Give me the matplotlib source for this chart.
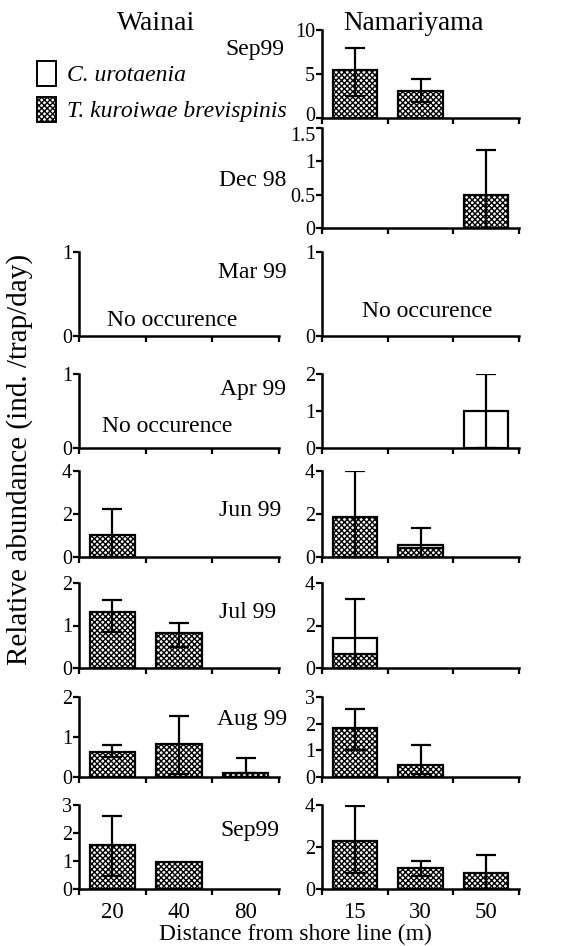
import matplotlib
matplotlib.use("Agg")
import matplotlib.pyplot as plt
from matplotlib.patches import Patch
from matplotlib.ticker import FormatStrFormatter
from matplotlib.transforms import ScaledTranslation
import numpy as np

plt.rcParams["font.family"] = ["Liberation Serif", "DejaVu Serif"]
plt.rcParams["hatch.linewidth"] = 1.0

# ---- data ----
months = ["Sep99", "Dec 98", "Mar 99", "Apr 99", "Jun 99", "Jul 99", "Aug 99", "Sep99"]
wainai_dist = ["20", "40", "80"]
nama_dist = ["15", "30", "50"]

# Wainai (first two sampling dates not surveyed)
wainai_tk = [None, None,
             [0, 0, 0], [0, 0, 0], [1.04, 0, 0], [1.32, 0.83, 0],
             [0.63, 0.83, 0.09], [1.57, 0.98, 0]]
wainai_cu = [None, None,
             [0, 0, 0], [0, 0, 0], [0, 0, 0], [0, 0, 0], [0, 0, 0], [0, 0, 0]]
wainai_up = [None, None,
             [0, 0, 0], [0, 0, 0], [1.21, 0, 0], [0.28, 0.22, 0],
             [0.17, 0.70, 0.38], [1.03, 0, 0]]
wainai_down = [None, None,
               [0, 0, 0], [0, 0, 0], [1.04, 0, 0], [0.47, 0.34, 0],
               [0.13, 0.76, 0], [1.10, 0, 0]]
wainai_ymax = [None, None, 1, 1, 4, 2, 2, 3]
wainai_yticks = [None, None, [0, 1], [0, 1], [0, 2, 4], [0, 1, 2], [0, 1, 2], [0, 1, 2, 3]]

# Namariyama
nama_tk = [[5.4, 3.1, 0], [0, 0, 0.5], [0, 0, 0], [0, 0, 0],
           [1.88, 0.40, 0], [0.65, 0, 0], [1.84, 0.44, 0], [2.3, 1.02, 0.77]]
nama_cu = [[0, 0, 0], [0, 0, 0], [0, 0, 0], [0, 0, 1.0],
           [0, 0.18, 0], [0.75, 0, 0], [0, 0, 0], [0, 0, 0]]
nama_up = [[2.6, 1.3, 0], [0, 0, 0.67], [0, 0, 0], [0, 0, 1.0],
           [2.12, 0.78, 0], [1.83, 0, 0], [0.72, 0.75, 0], [1.67, 0.32, 0.87]]
nama_down = [[2.9, 1.3, 0], [0, 0, 0.5], [0, 0, 0], [0, 0, 1.0],
             [1.88, 0.58, 0], [1.4, 0, 0], [0.84, 0.34, 0], [1.53, 0.42, 0.77]]
nama_ymax = [10, 1.5, 1, 2, 4, 4, 3, 4]
nama_yticks = [[0, 5, 10], [0, 0.5, 1, 1.5], [0, 1], [0, 1, 2],
               [0, 2, 4], [0, 2, 4], [0, 1, 2, 3], [0, 2, 4]]

# ---- layout (pixels of a 578 x 946 canvas) ----
W, H = 578, 946
fig = plt.figure(figsize=(W / 100, H / 100), dpi=100)

row_px = [(30, 118), (128, 228), (252, 336), (374, 448),
          (471, 557), (583, 668), (697, 777), (805, 889)]
col_px = {"w": (79, 279), "n": (322, 519)}

HATCH = "xxxxxx"


def add_panel(col, row, tk, cu, up, down, ymax, yticks, dist):
    x0, x1 = col_px[col]
    top, bot = row_px[row]
    ax = fig.add_axes([x0 / W, 1 - bot / H, (x1 - x0) / W, (bot - top) / H])
    x = np.arange(1, 4)
    tk = np.asarray(tk, dtype=float)
    cu = np.asarray(cu, dtype=float)
    width = 0.68
    ax.bar(x[tk > 0], tk[tk > 0], width, color="white", edgecolor="black",
           linewidth=1.6, hatch=HATCH, zorder=2)
    ax.bar(x[cu > 0], cu[cu > 0], width, bottom=tk[cu > 0], color="white",
           edgecolor="black", linewidth=1.6, zorder=2)
    total = tk + cu
    up = np.asarray(up, dtype=float)
    down = np.asarray(down, dtype=float)
    m = (up > 0) | (down > 0)
    if m.any():
        ax.errorbar(x[m], total[m], yerr=[down[m], up[m]], fmt="none",
                    ecolor="black", elinewidth=1.6, capsize=7, capthick=1.6,
                    zorder=3)

    ax.set_xlim(0.5, 3.5)
    ax.set_ylim(0, ymax)
    ax.set_yticks(yticks)
    ax.yaxis.set_major_formatter(FormatStrFormatter("%g"))
    ax.set_xticks([0.5, 1.5, 2.5, 3.5])
    ax.set_xticklabels([])
    ax.set_xticks(x, minor=True)
    if row == 7:
        ax.set_xticklabels(dist, minor=True, fontsize=16.5)
    else:
        ax.set_xticklabels([], minor=True)
    ax.tick_params(axis="x", which="minor", length=0, pad=9)
    ax.tick_params(axis="x", which="major", direction="out", length=4, width=1.6)
    ax.tick_params(axis="y", direction="out", length=4, width=1.6,
                   labelsize=14.5, pad=1)
    for s in ("top", "right"):
        ax.spines[s].set_visible(False)
    for s in ("left", "bottom"):
        ax.spines[s].set_linewidth(1.8)
    ax.patch.set_alpha(0)
    return ax


panels = {}
for r in range(8):
    if wainai_tk[r] is not None:
        panels[("w", r)] = add_panel("w", r, wainai_tk[r], wainai_cu[r], wainai_up[r],
                                     wainai_down[r], wainai_ymax[r], wainai_yticks[r],
                                     wainai_dist)
    panels[("n", r)] = add_panel("n", r, nama_tk[r], nama_cu[r], nama_up[r],
                                 nama_down[r], nama_ymax[r], nama_yticks[r], nama_dist)

# the two top Namariyama panels nearly touch: nudge their facing tick labels apart
lbls = panels[("n", 0)].get_yticklabels()
lbls[0].set_transform(lbls[0].get_transform()
                      + ScaledTranslation(0, 3 / 72, fig.dpi_scale_trans))
lbls = panels[("n", 1)].get_yticklabels()
lbls[-1].set_transform(lbls[-1].get_transform()
                       + ScaledTranslation(0, -4 / 72, fig.dpi_scale_trans))

# month labels
month_xy = [(284, 50), (286, 180), (287, 272), (286, 390),
            (281, 511), (276, 612), (287, 720), (279, 830)]
for label, (mx, my) in zip(months, month_xy):
    fig.text(mx / W, 1 - my / H, label, ha="right", va="center", fontsize=17)

# "No occurence" notes
fig.text(172 / W, 1 - 320 / H, "No occurence", ha="center", va="center", fontsize=17)
fig.text(427 / W, 1 - 311 / H, "No occurence", ha="center", va="center", fontsize=17)
fig.text(167 / W, 1 - 427 / H, "No occurence", ha="center", va="center", fontsize=17)

# site titles
fig.text(156 / W, 1 - 23 / H, "Wainai", ha="center", va="center", fontsize=20)
fig.text(413 / W, 1 - 24 / H, "Namariyama", ha="center", va="center", fontsize=19.5)

# axis labels
fig.text(295 / W, 1 - 934 / H, "Distance from shore line (m)",
         ha="center", va="center", fontsize=17)
fig.text(20 / W, 1 - 459 / H, "Relative abundance (ind. /trap/day)",
         ha="center", va="center", rotation=90, fontsize=21)

# legend
handles = [
    Patch(facecolor="white", edgecolor="black", linewidth=1.4),
    Patch(facecolor="white", edgecolor="black", linewidth=1.4, hatch=HATCH),
]
fig.legend(handles, ["C. urotaenia", "T. kuroiwae brevispinis"],
           loc="upper left", bbox_to_anchor=(37 / W, 1 - 61 / H),
           frameon=False, prop={"style": "italic", "size": 17},
           handlelength=0.8, handleheight=1.25, handletextpad=0.45,
           labelspacing=0.45, borderaxespad=0, borderpad=0)

fig.savefig("out.png", dpi=100)
